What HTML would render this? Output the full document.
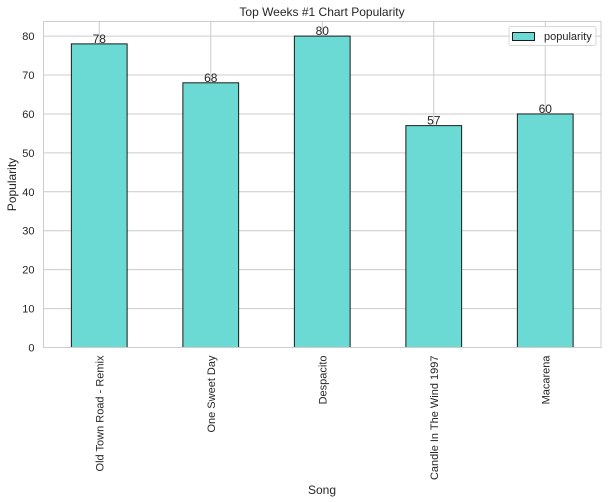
<!DOCTYPE html>
<html><head><meta charset="utf-8"><style>
body{margin:0;background:#fff;}
svg{display:block;font-family:"Liberation Sans","DejaVu Sans",sans-serif;}
</style></head><body>
<svg id="chart" width="608" height="502" xmlns="http://www.w3.org/2000/svg">
<text x="322" y="16" text-anchor="middle" font-size="12" fill="#262626">Top Weeks #1 Chart Popularity</text>
<g id="grid"></g>
<g id="bars"></g>
<g id="ticks"></g>
<rect x="43.5" y="21.5" width="557.5" height="326" fill="none" stroke="#cccccc" stroke-width="1"/>
<text transform="translate(16,184.5) rotate(-90)" text-anchor="middle" font-size="12" fill="#262626">Popularity</text>
<text x="322" y="494" text-anchor="middle" font-size="12" fill="#262626">Song</text>
<g>
<rect x="509" y="26.5" width="87" height="19" rx="2" fill="#fff" fill-opacity="0.8" stroke="#d8d8d8"/>
<rect x="512.5" y="32.5" width="22" height="8" fill="#6cdad4" stroke="#1a1a1a"/>
<text x="544" y="40" font-size="11" fill="#262626">popularity</text>
</g>
</svg>
<script>
const categories = ["Old Town Road - Remix","One Sweet Day","Despacito","Candle In The Wind 1997","Macarena"];
const values = [78,68,80,57,60];
const yTicks = [0,10,20,30,40,50,60,70,80];
const L=43.5,R=601,T=21.5,B=347.5,YMAX=83.75;
const ns="http://www.w3.org/2000/svg";
const y=v=>B-(v/YMAX)*(B-T);
const band=(R-L)/categories.length;
const xc=i=>L+band*(i+0.5);
function mk(tag,attrs,parent){const e=document.createElementNS(ns,tag);for(const k in attrs)e.setAttribute(k,attrs[k]);parent.appendChild(e);return e;}
const grid=document.getElementById('grid'),bars=document.getElementById('bars'),ticks=document.getElementById('ticks');
yTicks.forEach(t=>{
  const g=mk('line',{x1:L,x2:R,y1:y(t),y2:y(t),stroke:'#cccccc','stroke-width':1},grid);
  
  
  const tx=mk('text',{x:L-9,y:y(t)+4,'text-anchor':'end','font-size':11,fill:'#262626'},ticks);
  tx.textContent=t;
  
  
});
categories.forEach((c,i)=>{
  const g=mk('line',{x1:xc(i),x2:xc(i),y1:T,y2:B,stroke:'#cccccc','stroke-width':1},grid);
  
  
  const w=band*0.5;
  const r=mk('rect',{x:xc(i)-w/2,y:y(values[i]),width:w,height:B-y(values[i]),fill:'#6cdad4',stroke:'#1a1a1a','stroke-width':1},bars);
  
  
  const v=mk('text',{x:xc(i),y:y(values[i])-1,'text-anchor':'middle','font-size':12,fill:'#262626'},bars);
  v.textContent=values[i];
  
  
  const tl=mk('text',{transform:`translate(${xc(i)+4},${B+8}) rotate(-90)`,'text-anchor':'end','font-size':11,fill:'#262626'},ticks);
  tl.textContent=c;
  
  
});
</script>
</body></html>
